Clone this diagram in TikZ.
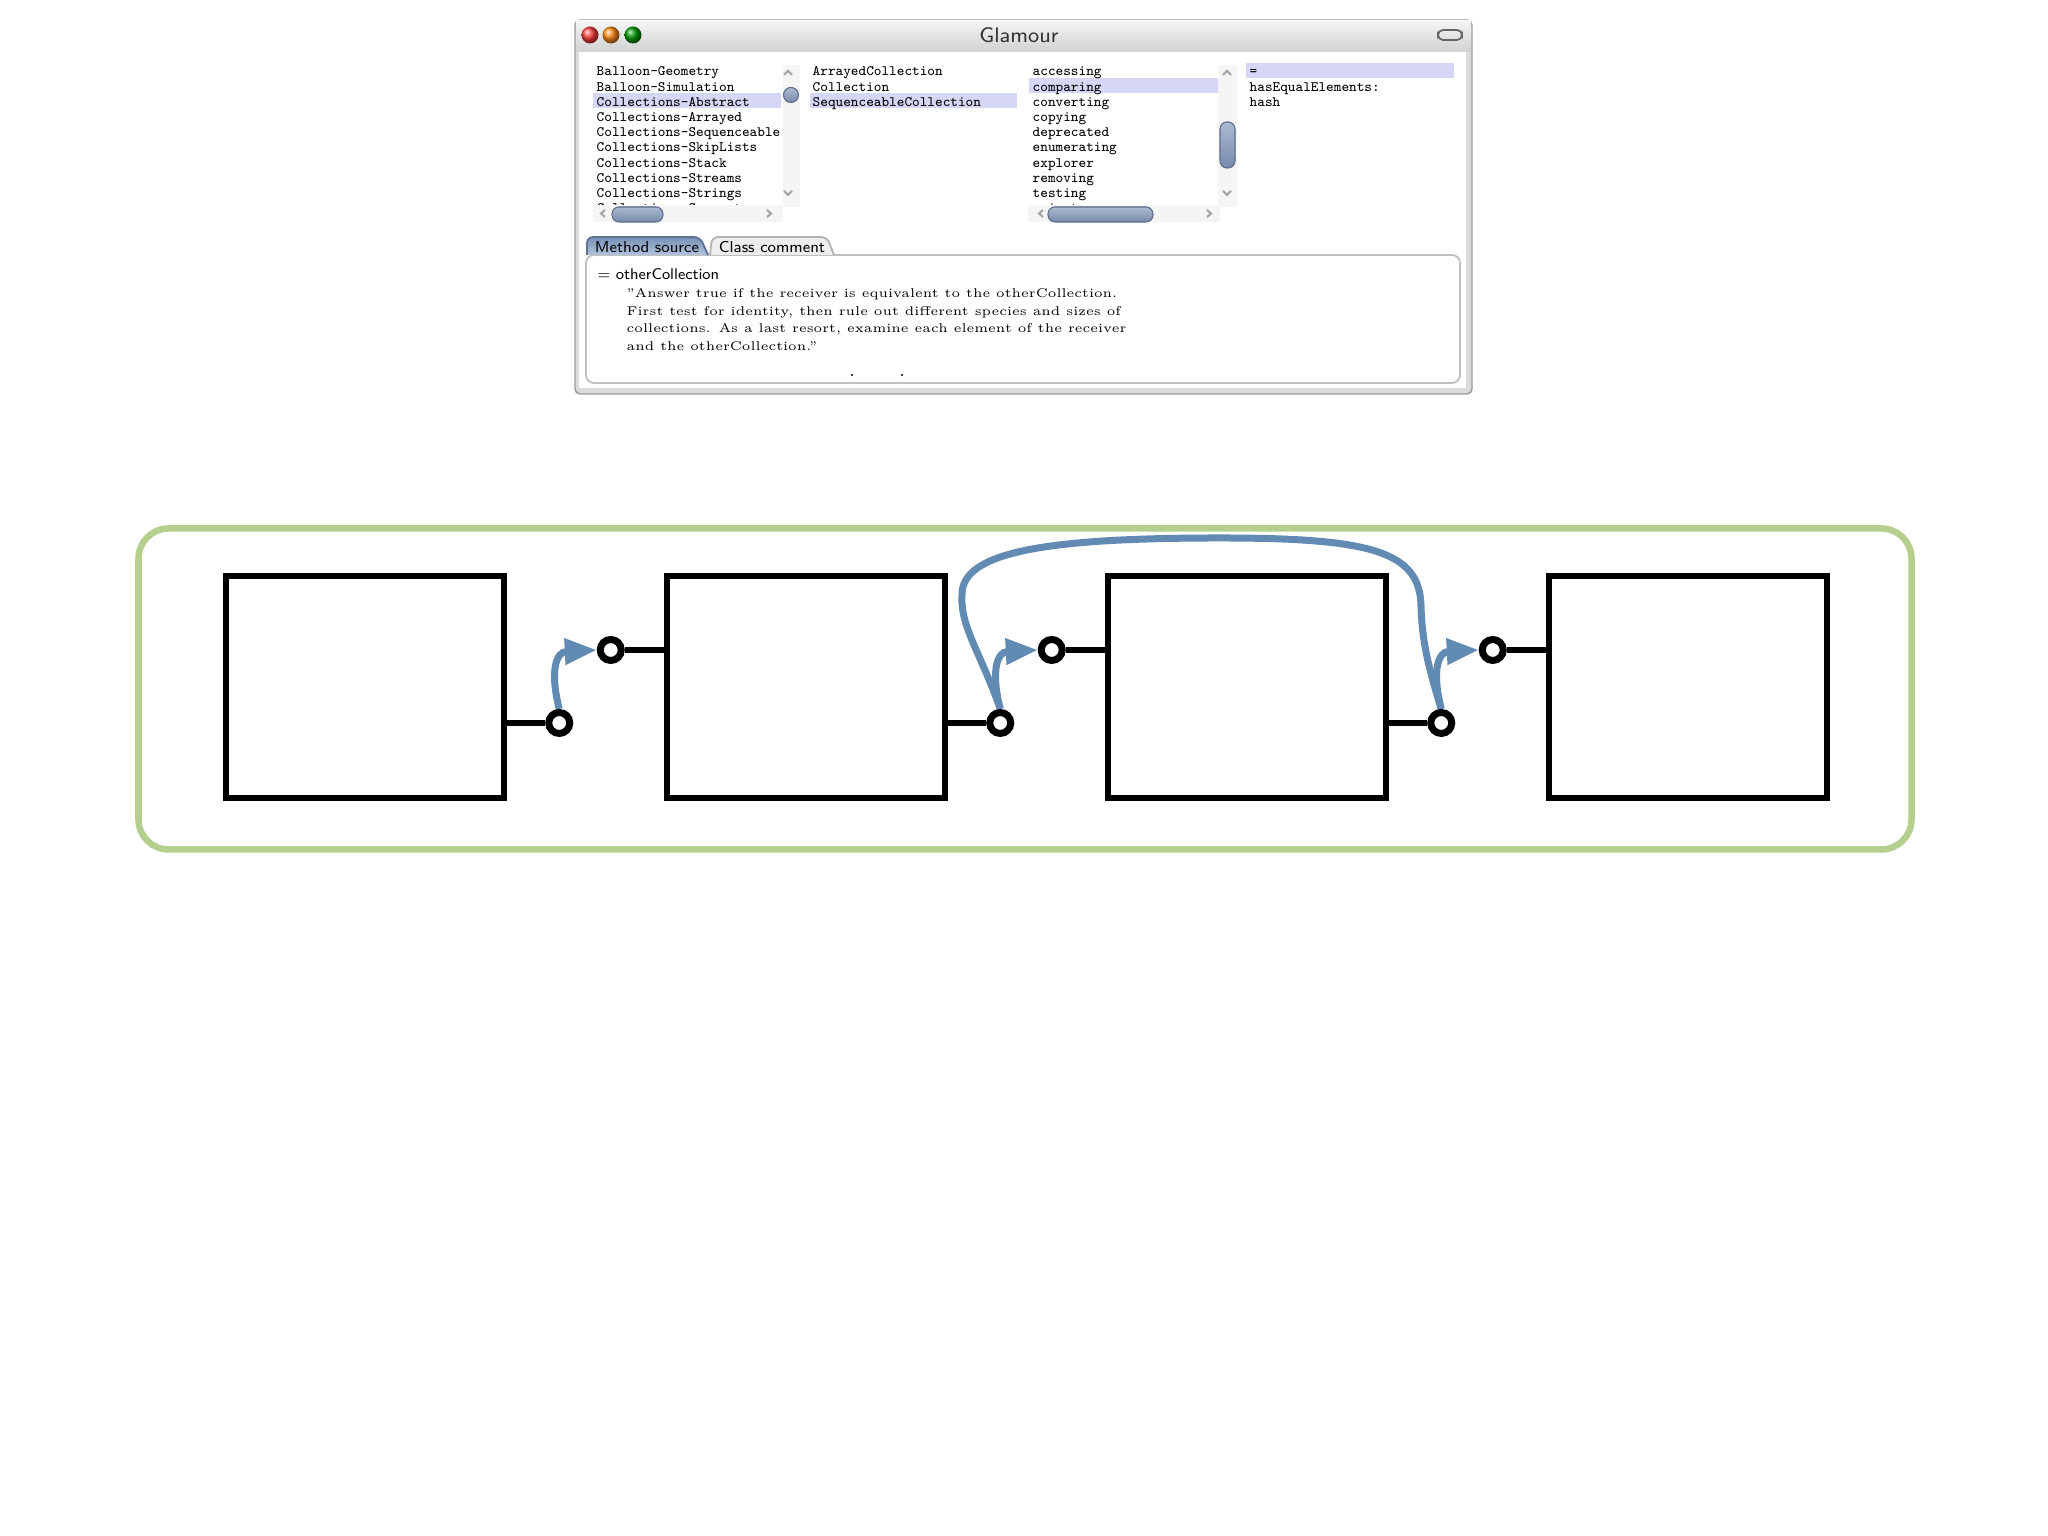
\documentclass[tikz,border=0pt]{standalone}
\usepackage{tikz}
\usetikzlibrary{arrows.meta, calc, backgrounds}
\definecolor{framegreen}{RGB}{180,207,142}
\definecolor{flowblue}{RGB}{98,139,180}
\definecolor{selrow}{RGB}{214,214,246}
\definecolor{thumbtop}{RGB}{172,186,210}
\definecolor{thumbbot}{RGB}{118,138,170}
\definecolor{thumbedge}{RGB}{92,108,138}
\definecolor{tabtop}{RGB}{118,144,182}
\definecolor{tabbot}{RGB}{178,196,220}

\begin{document}
\begin{tikzpicture}[
    listitem/.style={anchor=base west, inner sep=0pt, font=\ttfamily\fontsize{4.1}{4.3}\selectfont},
    codeline/.style={anchor=base west, inner sep=0pt, font=\fontsize{3.6}{4}\selectfont},
    tablabel/.style={inner sep=0pt, font=\sffamily\fontsize{4.5}{5}\selectfont},
    track/.style={fill=black!4},
    thumb/.style={draw=thumbedge, line width=0.3pt, top color=thumbtop, bottom color=thumbbot},
    caret/.style={draw=black!35, line width=0.6pt},
    blockbox/.style={
        draw=black,
        line width=0.065cm,
        minimum width=2.78cm,
        minimum height=2.22cm,
        inner sep=0pt
    },
    port/.style={
        circle,
        draw=black,
        fill=white,
        line width=0.07cm,
        minimum size=0.21cm,
        inner sep=0pt
    },
    wire/.style={draw=black, line width=0.065cm},
    flowline/.style={draw=flowblue, line width=0.07cm},
    flow/.style={flowline, -{Triangle[length=0.32cm, width=0.25cm]}}
]
\useasboundingbox (0,0) rectangle (20.48,15.36);

% browser window
\filldraw[draw=black!40, fill=black!14, rounded corners=0.05cm] (5.75,11.42) rectangle (14.72,15.16);
\shade[top color=black!4, bottom color=black!18] (5.76,14.84) rectangle (14.71,15.15);
\fill[white] (5.79,11.48) rectangle (14.66,14.84);
\shade[ball color=red!75] (5.90,15.01) circle (0.085);
\shade[ball color=orange!90] (6.11,15.01) circle (0.085);
\shade[ball color=green!60!black] (6.33,15.01) circle (0.085);
\node[inner sep=0pt, font=\sffamily\fontsize{6}{7}\selectfont, text=black!80] (title) at (10.19,15.01) {Glamour};
\draw[black!60, line width=0.5pt, rounded corners=0.05cm] (14.38,14.96) rectangle (14.62,15.06);

% selected rows
\fill[selrow] (5.93,14.28) rectangle (7.81,14.43);
\fill[selrow] (8.10,14.28) rectangle (10.17,14.43);
\fill[selrow] (10.29,14.43) rectangle (12.18,14.58);
\fill[selrow] (12.46,14.58) rectangle (14.54,14.73);

\begin{scope}
\clip (5.85,13.31) rectangle (7.83,14.80);
\foreach \t [count=\i] in {Balloon-Geometry,Balloon-Simulation,Collections-Abstract,Collections-Arrayed,Collections-Sequenceable,Collections-SkipLists,Collections-Stack,Collections-Streams,Collections-Strings,Collections-Support}
    \node[listitem] (pk\i) at (5.96,{14.60-0.152*(\i-1)}) {\t};
\end{scope}
\foreach \t [count=\i] in {ArrayedCollection,Collection,SequenceableCollection}
    \node[listitem] (cl\i) at (8.12,{14.60-0.152*(\i-1)}) {\t};
\begin{scope}
\clip (10.25,13.31) rectangle (12.18,14.80);
\foreach \t [count=\i] in {accessing,comparing,converting,copying,deprecated,enumerating,explorer,removing,testing,private}
    \node[listitem] (pr\i) at (10.32,{14.60-0.152*(\i-1)}) {\t};
\end{scope}
\foreach \t [count=\i] in {=,hasEqualElements:,hash}
    \node[listitem] (me\i) at (12.49,{14.60-0.152*(\i-1)}) {\t};

% scroll bars
\fill[track] (7.83,13.29) rectangle (8.00,14.71);
\fill[track] (5.93,13.14) rectangle (7.83,13.31);
\fill[track] (12.18,13.29) rectangle (12.37,14.71);
\fill[track] (10.28,13.14) rectangle (12.20,13.31);
\foreach \x in {7.88,12.27} {
    \draw[caret] (\x-0.04,14.61) -- (\x,14.65) -- (\x+0.04,14.61);
    \draw[caret] (\x-0.04,13.45) -- (\x,13.41) -- (\x+0.04,13.45);
}
\foreach \x/\y in {6.02/7.70,10.40/12.10} {
    \draw[caret] (\x+0.03,13.26) -- (\x-0.01,13.225) -- (\x+0.03,13.19);
    \draw[caret] (\y-0.03,13.26) -- (\y+0.01,13.225) -- (\y-0.03,13.19);
}
\filldraw[thumb] (7.91,14.41) circle (0.075);
\filldraw[thumb, rounded corners=0.07cm] (12.20,13.68) rectangle (12.35,14.14);
\filldraw[thumb, rounded corners=0.07cm] (6.12,13.14) rectangle (6.63,13.29);
\filldraw[thumb, rounded corners=0.07cm] (10.48,13.14) rectangle (11.53,13.29);

% tabs and source pane
\draw[black!25, line width=0.5pt, rounded corners=0.08cm] (5.86,11.53) rectangle (14.60,12.81);
\filldraw[draw=black!30, fill=black!7, line width=0.5pt, rounded corners=0.06cm]
    (7.10,12.81) -- (7.12,12.99) -- (8.27,12.99) -- (8.34,12.81);
\shadedraw[draw=tabtop!80!black, top color=tabtop, bottom color=tabbot, line width=0.5pt, rounded corners=0.06cm]
    (5.87,12.81) -- (5.87,12.99) -- (7.00,12.99) -- (7.08,12.81);
\node[tablabel] (tab1) at (6.47,12.885) {Method source};
\node[tablabel] (tab2) at (7.72,12.885) {Class comment};
\node[codeline, font=\sffamily\fontsize{4.4}{5}\selectfont] (src0) at (5.97,12.56) {= otherCollection};
\foreach \t [count=\i] in {"Answer true if the receiver is equivalent to the otherCollection.,First test for identity{,} then rule out different species and sizes of,collections. As a last resort{,} examine each element of the receiver,and the otherCollection."}
    \node[codeline] (src\i) at (6.26,{12.38-0.175*(\i-1)}) {\t};
\fill (8.52,11.61) circle (0.012) (9.02,11.61) circle (0.012);

% linked boxes
\draw[draw=framegreen, line width=0.065cm, rounded corners=0.3cm] (1.385,6.865) rectangle (19.115,10.075);
\foreach \i in {1,...,4}
    \node[blockbox] (b\i) at ({3.65+4.41*(\i-1)},8.49) {};
\foreach \i in {1,2,3} {
    \node[port] (out\i) at ($(b\i.east)+(0.52,-0.36)$) {};
    \draw[wire] (out\i.west) -- (out\i.west -| b\i.east);
}
\foreach \i in {2,3,4} {
    \node[port] (in\i) at ($(b\i.west)+(-0.53,0.37)$) {};
    \draw[wire] (in\i.east) -- (in\i.east -| b\i.west);
}
\begin{scope}[on background layer]
\foreach \a/\b in {1/2,2/3,3/4}
    \draw[flow] (out\a.north) .. controls ($(out\a.north)+(-0.10,0.40)$)
        and ($(in\b.west)+(-0.40,-0.02)$) .. (in\b.west);
\draw[flowline] (out2.north) .. controls (9.82,8.80) and (9.60,9.10) .. (9.62,9.40)
    .. controls (9.60,9.85) and (10.5,9.98) .. (12.2,9.98)
    .. controls (13.7,9.98) and (14.2,9.85) .. (14.21,9.30)
    .. controls (14.22,8.95) and (14.28,8.70) .. (out3.north);
\end{scope}
\end{tikzpicture}
\end{document}
